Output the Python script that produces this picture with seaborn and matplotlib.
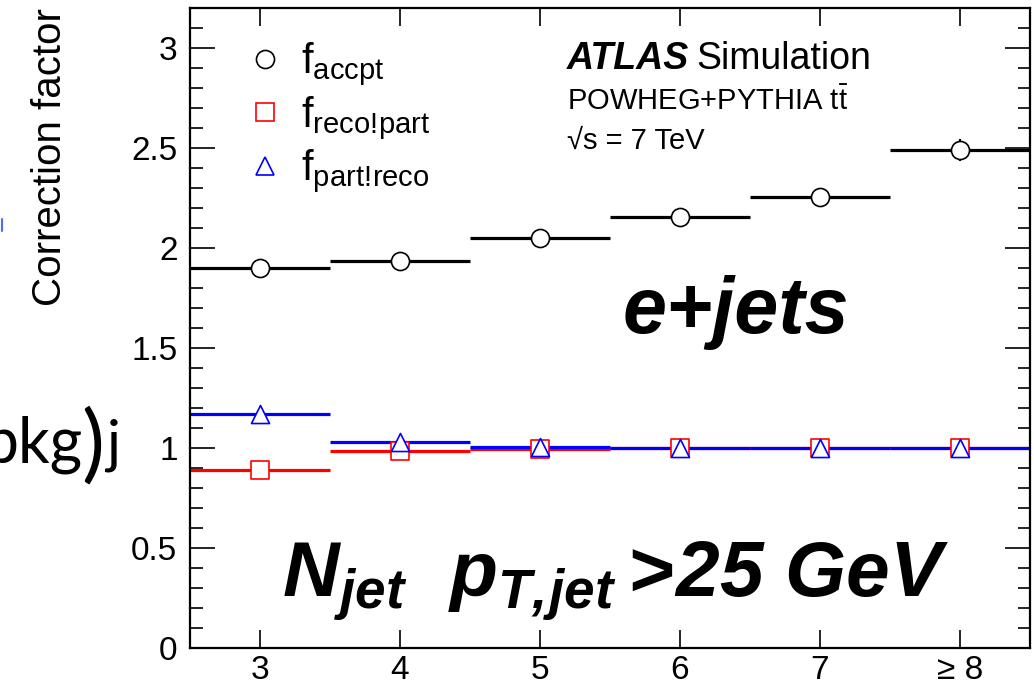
import numpy as np
import pandas as pd
import matplotlib
matplotlib.use("Agg")
import matplotlib.pyplot as plt
import seaborn as sns
from matplotlib.ticker import MultipleLocator, FuncFormatter
from matplotlib.lines import Line2D

# ---------------- data ----------------
categories = ["3", "4", "5", "6", "7", "\u2265 8"]
f_accpt = [1.90, 1.935, 2.05, 2.155, 2.255, 2.49]
f_accpt_err = [0.0, 0.0, 0.0, 0.0, 0.0, 0.055]
f_reco_part = [0.89, 0.985, 0.995, 1.0, 1.0, 1.0]
f_part_reco = [1.17, 1.03, 1.005, 1.0, 1.0, 1.0]

series_labels = [r"$\mathregular{f_{accpt}}$",
                 r"$\mathregular{f_{reco!\!part}}$",
                 r"$\mathregular{f_{part!\!reco}}$"]

# ---------------- style ----------------
sns.set_theme(style="ticks")
plt.rcParams["font.family"] = ["Liberation Sans", "DejaVu Sans"]
plt.rcParams.update({
    "text.color": "black", "axes.labelcolor": "black",
    "xtick.color": "black", "ytick.color": "black", "axes.edgecolor": "black",
})
plt.rcParams["mathtext.fontset"] = "custom"
plt.rcParams["mathtext.rm"] = "Liberation Sans"
plt.rcParams["mathtext.it"] = "Liberation Sans:italic"
plt.rcParams["mathtext.bf"] = "Liberation Sans:bold"
plt.rcParams["mathtext.bfit"] = "Liberation Sans:italic:bold"

fig = plt.figure(figsize=(10.34, 6.87), dpi=100)
ax = fig.add_axes([190 / 1034, 1 - 648 / 687, 840 / 1034, 640 / 687])

x = np.arange(len(categories))
df = pd.DataFrame({"x": x, "accpt": f_accpt, "reco": f_reco_part,
                   "part": f_part_reco, "err": f_accpt_err})

lw = 2.3
ms = 13
# bin lines
ax.hlines(df["accpt"], df["x"] - 0.5, df["x"] + 0.5, color="black", lw=lw, zorder=2)
ax.hlines(df["reco"], df["x"] - 0.5, df["x"] + 0.5, color="#ff0000", lw=lw, zorder=2)
ax.hlines(df["part"], df["x"] - 0.5, df["x"] + 0.5, color="#0000ff", lw=lw, zorder=2.1)
e = df[df["err"] > 0]
ax.vlines(e["x"], e["accpt"] - e["err"], e["accpt"] + e["err"], color="black", lw=1.5, zorder=2)

# markers
sns.scatterplot(data=df, x="x", y="accpt", marker="o", s=ms**2, color="white",
                edgecolor="black", linewidth=1.2, zorder=3, ax=ax, legend=False)
sns.scatterplot(data=df, x="x", y="reco", marker="s", s=ms**2, color="white",
                edgecolor="#ff0000", linewidth=1.2, zorder=3.1, ax=ax, legend=False)
sns.scatterplot(data=df, x="x", y="part", marker="^", s=ms**2, color="white",
                edgecolor="#0000ff", linewidth=1.2, zorder=3.2, ax=ax, legend=False)

# axes
ax.set_xlim(-0.5, len(categories) - 0.5)
ax.set_ylim(0, 3.2)
ax.set_xticks(x)
ax.set_xticklabels(categories)
ax.set_xlabel("")
ax.yaxis.set_major_locator(MultipleLocator(0.5))
ax.yaxis.set_minor_locator(MultipleLocator(0.1))
ax.yaxis.set_major_formatter(FuncFormatter(lambda v, p: "%g" % v))
ax.tick_params(axis="y", which="major", direction="in", length=18, width=1.2,
               left=True, right=True, labelsize=24, pad=9)
ax.tick_params(axis="y", which="minor", direction="in", length=9, width=1.2,
               left=True, right=True)
ax.tick_params(axis="x", which="major", direction="in", length=13, width=1.2,
               bottom=True, top=True, labelsize=24, pad=5)
for sp in ax.spines.values():
    sp.set_linewidth(1.6)
    sp.set_visible(True)
ax.set_ylabel("Correction factor", loc="top", fontsize=29)
ax.yaxis.set_label_coords(-0.144, 1.0)

# legend
handles = [
    Line2D([], [], marker="o", ls="none", ms=ms, mfc="white", mec="black", mew=1.2),
    Line2D([], [], marker="s", ls="none", ms=ms, mfc="white", mec="#ff0000", mew=1.2),
    Line2D([], [], marker="^", ls="none", ms=ms, mfc="white", mec="#0000ff", mew=1.2),
]
ax.legend(handles, series_labels, loc="upper left", bbox_to_anchor=(0.04, 0.975),
          frameon=False, fontsize=30, handlelength=1.2, handletextpad=0.25,
          labelspacing=0.14, borderaxespad=0)

# annotations
ax.text(0.449, 0.905, "ATLAS", transform=ax.transAxes, fontsize=27,
        fontweight="bold", style="italic", va="baseline")
ax.text(0.603, 0.905, "Simulation", transform=ax.transAxes, fontsize=27, va="baseline")
ax.text(0.449, 0.84, r"POWHEG+PYTHIA $\mathregular{t\bar{t}}$", transform=ax.transAxes,
        fontsize=21, va="baseline")
ax.text(0.449, 0.78, "\u221as = 7 TeV", transform=ax.transAxes, fontsize=21, va="baseline")
ax.text(0.515, 0.492, "e+jets", transform=ax.transAxes, fontsize=57,
        fontweight="bold", style="italic", va="baseline")
ax.text(0.11, 0.078, r"$\mathbfit{N_{jet}\ \ p_{T,\!jet}>\!25\ GeV}$",
        transform=ax.transAxes, fontsize=56.5, va="baseline")

# fragment of neighbouring panel at the left edge
frag_family = ["Lato", "Liberation Sans"]
fig.text(83 / 1034, 1 - 462 / 687, "bkg", fontsize=45, ha="right", va="baseline",
         family=frag_family)
fig.text(81 / 1034, 1 - 471 / 687, ")", fontsize=62, ha="left", va="baseline",
         family=frag_family)
fig.text(106 / 1034, 1 - 462 / 687, "j", fontsize=42, ha="left", va="baseline",
         family=frag_family)
fig.add_artist(Line2D([1.5 / 1034, 1.5 / 1034], [1 - 219 / 687, 1 - 231 / 687],
                      color="#4a6cff", lw=1.5))

fig.savefig("out.png", dpi=100)
